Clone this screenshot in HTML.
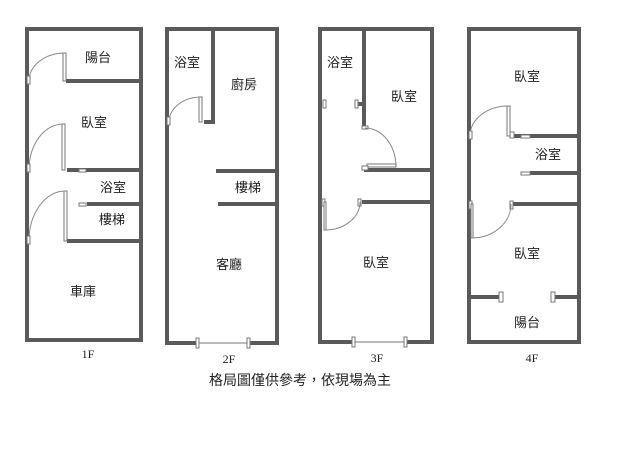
<!DOCTYPE html>
<html><head><meta charset="utf-8"><style>
html,body{margin:0;padding:0;background:#fff;}
svg{display:block}
text{font-family:"Liberation Sans","Noto Sans CJK TC",sans-serif;font-size:13px;fill:#222;text-anchor:middle}
.f{font-family:"Liberation Serif","Noto Serif CJK SC",serif;font-size:12px}
.w{stroke:#5a5a5a;stroke-width:4;fill:none}
.d{stroke:#888;stroke-width:1;fill:none}
.m{stroke:#777;stroke-width:1;fill:#fff}
</style></head><body>
<svg width="638" height="460" viewBox="0 0 638 460">
<!-- 1F -->
<rect class="w" x="27" y="29" width="114" height="311"/>
<line class="w" x1="66" y1="81" x2="141" y2="81"/>
<line class="w" x1="67" y1="170" x2="141" y2="170"/>
<line class="w" x1="87" y1="204" x2="141" y2="204"/>
<line class="w" x1="67" y1="241" x2="141" y2="241"/>
<rect class="m" x="63" y="53" width="3" height="28"/><path class="d" d="M64 53 A36 28 0 0 0 29 81"/><rect class="m" x="27" y="76" width="3" height="8"/>
<rect class="m" x="62" y="124" width="3" height="46"/><path class="d" d="M63 124 A34 46 0 0 0 29 170"/><rect class="m" x="27" y="164" width="3" height="8"/>
<rect class="m" x="64" y="191" width="3" height="50"/><path class="d" d="M65 191 A36 50 0 0 0 29 241"/><rect class="m" x="27" y="236" width="3" height="8"/>
<rect class="m" x="79" y="169" width="7" height="3"/><rect class="m" x="79" y="203" width="7" height="3"/>
<text x="98" y="62">陽台</text><text x="94" y="127">臥室</text><text x="113" y="192">浴室</text><text x="112" y="224">樓梯</text><text x="83" y="296">車庫</text>
<text class="f" x="88" y="358">1F</text>
<!-- 2F -->
<rect class="w" x="167" y="29" width="110" height="314"/>
<line x1="198" y1="343" x2="248" y2="343" stroke="#fff" stroke-width="6"/>
<line x1="198" y1="343" x2="248" y2="343" stroke="#777" stroke-width="1"/>
<rect class="m" x="196" y="338" width="3" height="10"/><rect class="m" x="247" y="338" width="3" height="10"/>
<polyline class="w" points="213,29 213,122 204,122"/>
<rect class="m" x="199" y="97" width="3" height="25"/><path class="d" d="M200 97 A32 25 0 0 0 169 122"/><rect class="m" x="167" y="117" width="3" height="8"/>
<line class="w" x1="216" y1="171" x2="277" y2="171"/>
<line class="w" x1="218" y1="204" x2="277" y2="204"/>
<text x="187" y="67">浴室</text><text x="244" y="89">廚房</text><text x="248" y="192">樓梯</text><text x="229" y="269">客廳</text>
<text class="f" x="229" y="363">2F</text>
<!-- 3F -->
<rect class="w" x="320" y="29" width="112" height="313"/>
<line x1="354" y1="342" x2="405" y2="342" stroke="#fff" stroke-width="6"/>
<line x1="354" y1="342" x2="405" y2="342" stroke="#777" stroke-width="1"/>
<rect class="m" x="352" y="337" width="3" height="10"/><rect class="m" x="404" y="337" width="3" height="10"/>
<line class="w" x1="364" y1="29" x2="364" y2="127"/>
<line class="w" x1="357" y1="104" x2="364" y2="104"/>
<rect class="m" x="323" y="100" width="3" height="8"/><rect class="m" x="355" y="100" width="3" height="8"/>
<rect class="m" x="362" y="126" width="6" height="3"/>
<path class="d" d="M365 128 A31 39 0 0 1 396 166"/><rect class="m" x="367" y="164" width="29" height="3"/>
<line class="w" x1="364" y1="170" x2="432" y2="170"/><rect class="m" x="362" y="166" width="6" height="4"/>
<line class="w" x1="362" y1="202" x2="432" y2="202"/>
<rect class="m" x="322" y="199" width="3" height="7"/><rect class="m" x="358" y="199" width="3" height="7"/>
<rect class="m" x="324" y="202" width="2" height="28"/><path class="d" d="M325 230 A35 28 0 0 0 360 202"/>
<text x="340" y="67">浴室</text><text x="404" y="101">臥室</text><text x="376" y="267">臥室</text>
<text class="f" x="377" y="362">3F</text>
<!-- 4F -->
<rect class="w" x="469" y="29" width="110" height="313"/>
<line class="w" x1="512" y1="136" x2="579" y2="136"/>
<rect class="m" x="507" y="106" width="3" height="30"/><path class="d" d="M508 106 A38 30 0 0 0 470 136"/><rect class="m" x="469" y="131" width="3" height="8"/>
<rect class="m" x="510" y="132" width="4" height="6"/><rect class="m" x="521" y="135" width="9" height="3"/>
<line class="w" x1="530" y1="173" x2="579" y2="173"/><rect class="m" x="521" y="172" width="9" height="3"/>
<line class="w" x1="512" y1="204" x2="579" y2="204"/>
<rect class="m" x="469" y="201" width="3" height="8"/><rect class="m" x="510" y="201" width="3" height="8"/>
<rect class="m" x="471" y="204" width="2" height="34"/><path class="d" d="M472 238 A39 34 0 0 0 511 204"/>
<line class="w" x1="469" y1="297" x2="500" y2="297"/><line class="w" x1="554" y1="297" x2="579" y2="297"/>
<rect class="m" x="499" y="292" width="4" height="10"/><rect class="m" x="551" y="292" width="4" height="10"/>
<text x="527" y="81">臥室</text><text x="548" y="159">浴室</text><text x="527" y="258">臥室</text><text x="527" y="327">陽台</text>
<text class="f" x="532" y="362">4F</text>
<text x="300" y="385" style="font-size:14px">格局圖僅供參考，依現場為主</text>
</svg>
</body></html>
